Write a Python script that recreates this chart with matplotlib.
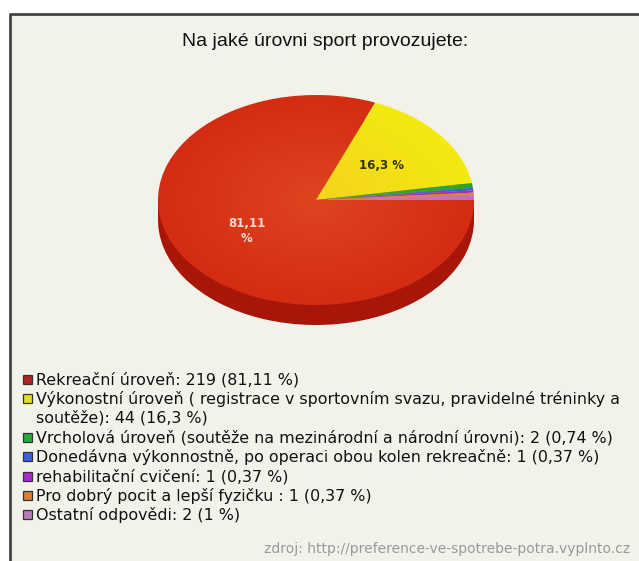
import numpy as np
import matplotlib
matplotlib.use('Agg')
import matplotlib.pyplot as plt
from matplotlib.patches import Rectangle, Ellipse

plt.rcParams['font.family'] = ['DejaVu Sans']

# data
title = 'Na jaké úrovni sport provozujete:'
categories = ['Rekreační úroveň',
              'Výkonostní úroveň ( registrace v sportovním svazu, pravidelné tréninky a\nsoutěže)',
              'Vrcholová úroveň (soutěže na mezinárodní a národní úrovni)',
              'Donedávna výkonnostně, po operaci obou kolen rekreačně',
              'rehabilitační cvičení',
              'Pro dobrý pocit a lepší fyzičku ',
              'Ostatní odpovědi']
counts = [219, 44, 2, 1, 1, 1, 2]
pct_labels = ['81,11 %', '16,3 %', '0,74 %', '0,37 %', '0,37 %', '0,37 %', '1 %']
slice_labels = ['81,11\n%', '16,3 %', '', '', '', '', '']
colors = ['#d42c12', '#f2ea10', '#22a82a', '#3a62d8', '#a828c8', '#dc8430', '#c070c0']
side_colors = ['#a8160a', '#b8b000', '#17801d', '#2a48a0', '#7a1c90', '#a86020', '#905090']
legend_colors = ['#b02424', '#e4dc22', '#26a83a', '#3a64d8', '#a82ad0', '#d88034', '#b87ab8']
source = 'zdroj: http://preference-ve-spotrebe-potra.vyplnto.cz'

W, H = 639, 561
fig = plt.figure(figsize=(W / 100, H / 100), dpi=100)
fig.patch.set_facecolor('white')

def fx(x):
    return x / W

def fy(y):
    return 1 - y / H

# panel background with dark top/left border
bg = fig.add_axes([0, 0, 1, 1])
bg.set_xlim(0, W)
bg.set_ylim(H, 0)
bg.axis('off')
bg.add_patch(Rectangle((10, 14), W, H, facecolor='#f3f2ea', edgecolor='none'))
bg.plot([10, 10, W], [H, 14, 14], color='#444444', lw=2, solid_capstyle='butt')

fig.text(fx(325), fy(42), title, ha='center', va='center', fontsize=14,
         color='#111111', family='Liberation Sans')

# pie (3D look: shifted darker copy + side band)
cx, cy, rx, ry, depth = 316, 200, 158, 105, 20
d = depth / ry
ax = fig.add_axes([fx(cx - rx), fy(cy + ry + depth), 2 * rx / W, (2 * ry + depth) / H])
ax.pie(counts, colors=side_colors, startangle=0, counterclock=False,
       center=(0, -d), radius=1, wedgeprops=dict(linewidth=0))
ax.add_patch(Rectangle((-1, -d), 2, d, facecolor=side_colors[0], edgecolor='none', zorder=1))
wedges, texts, autotexts = ax.pie(
    counts, colors=colors, startangle=0, counterclock=False, radius=1,
    autopct=lambda p: '', pctdistance=0.53, wedgeprops=dict(linewidth=0, zorder=2))
for t, lab, c in zip(autotexts, slice_labels, ['#ffd8d0', '#333300'] + ['k'] * 5):
    t.set_text(lab)
    t.set_fontsize(8.5)
    t.set_fontweight('bold')
    t.set_color(c)
    t.set_zorder(5)

# soft radial highlight on top face
yy, xx = np.mgrid[-1:1:300j, -1:1:300j]
rr = np.sqrt(xx ** 2 + yy ** 2)
glow = np.zeros((300, 300, 4))
glow[..., 0] = 1.0
glow[..., 1] = 0.55
glow[..., 2] = 0.3
glow[..., 3] = np.clip(0.25 * (1 - rr), 0, None)
im = ax.imshow(glow, extent=(-1, 1, -1, 1), zorder=3, origin='lower')
im.set_clip_path(Ellipse((0, 0), 2, 2, transform=ax.transData))

ax.set_aspect('auto')
ax.set_xlim(-1, 1)
ax.set_ylim(-1 - d, 1)
ax.axis('off')

# legend
y = 380
for name, n, pct, col in zip(categories, counts, pct_labels, legend_colors):
    bg.add_patch(Rectangle((23, y - 5), 9, 9, facecolor=col, edgecolor='#333333', lw=0.9))
    fig.text(fx(36), fy(y - 8), f'{name}: {n} ({pct})', ha='left', va='top',
             fontsize=11.4, color='#111111', linespacing=1.18)
    y += 19.3 * (name.count('\n') + 1)

fig.text(fx(630), fy(549), source, ha='right', va='center', fontsize=10, color='#999999')

fig.savefig('out.png', dpi=100, facecolor=fig.get_facecolor())
